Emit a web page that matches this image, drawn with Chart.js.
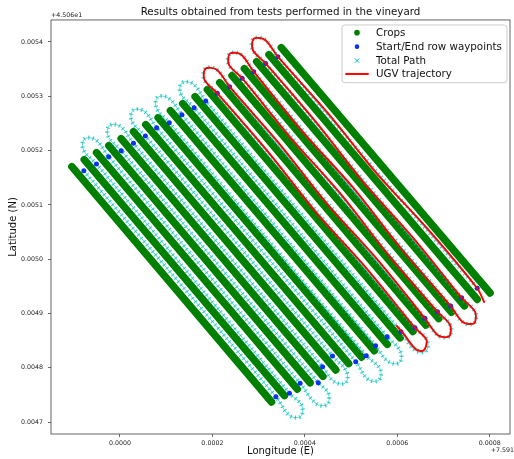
<!DOCTYPE html>
<html><head><meta charset="utf-8">
<script src="https://cdn.jsdelivr.net/npm/chart.js@4.4.1/dist/chart.umd.min.js"></script>
<style>html,body{margin:0;padding:0;background:#fff;}canvas{display:block;}</style>
</head><body>
<canvas id="c" width="514" height="459"></canvas>
<script>
// ---- texts ----
const chartTitle = 'Results obtained from tests performed in the vineyard';
const xLabel = 'Longitude (E)';
const yLabel = 'Latitude (N)';
const xOffsetText = '+7.591';
const yOffsetText = '+4.506e1';
const seriesNames = ['Crops', 'Start/End row waypoints', 'Total Path', 'UGV trajectory'];

// ---- axes (offsets from 7.591 E and 45.06 N) ----
const xTicks = [0.0000, 0.0002, 0.0004, 0.0006, 0.0008];
const yTicks = [0.0047, 0.0048, 0.0049, 0.0050, 0.0051, 0.0052, 0.0053, 0.0054];
const xMin = -0.000149, xMax = 0.0008436;
const yMin = 0.0046781, yMax = 0.0054405;

// ---- crop rows (upper-left start, lower-right end) ----
const cropStartLon = [-0.0001038, -0.0000771, -0.0000505, -0.0000239, 0.0000028, 0.0000294, 0.0000560, 0.0000827, 0.0001093, 0.0001360, 0.0001626, 0.0001892, 0.0002159, 0.0002425, 0.0002692, 0.0002958, 0.0003224, 0.0003491];
const cropStartLat = [0.0051704, 0.0051832, 0.0051961, 0.0052090, 0.0052219, 0.0052348, 0.0052477, 0.0052606, 0.0052735, 0.0052864, 0.0052993, 0.0053122, 0.0053250, 0.0053379, 0.0053508, 0.0053637, 0.0053766, 0.0053895];
const cropEndLon = [0.0003280, 0.0003558, 0.0003836, 0.0004114, 0.0004392, 0.0004670, 0.0004948, 0.0005226, 0.0005504, 0.0005782, 0.0006060, 0.0006338, 0.0006616, 0.0006894, 0.0007172, 0.0007450, 0.0007728, 0.0008006];
const cropEndLat = [0.0047370, 0.0047488, 0.0047606, 0.0047724, 0.0047842, 0.0047960, 0.0048078, 0.0048196, 0.0048314, 0.0048432, 0.0048551, 0.0048669, 0.0048787, 0.0048905, 0.0049023, 0.0049141, 0.0049259, 0.0049377];

// ---- start/end row waypoints (one per lane, top and bottom) ----
const wpTopLon = [-0.0000780, -0.0000507, -0.0000243, 0.0000030, 0.0000294, 0.0000552, 0.0000795, 0.0001068, 0.0001340, 0.0001605, 0.0001856, 0.0002105, 0.0002372, 0.0002642, 0.0002894, 0.0003151, 0.0003416];
const wpTopLat = [0.0051630, 0.0051753, 0.0051888, 0.0051998, 0.0052134, 0.0052269, 0.0052422, 0.0052514, 0.0052661, 0.0052790, 0.0052913, 0.0053055, 0.0053177, 0.0053332, 0.0053453, 0.0053604, 0.0053729];
const wpBotLon = [0.0003373, 0.0003667, 0.0003897, 0.0004290, 0.0004382, 0.0004597, 0.0005100, 0.0005328, 0.0005529, 0.0005779, 0.0006079, 0.0006380, 0.0006595, 0.0006868, 0.0007153, 0.0007390, 0.0007727];
const wpBotLat = [0.0047468, 0.0047530, 0.0047715, 0.0047726, 0.0048020, 0.0048217, 0.0048112, 0.0048223, 0.0048407, 0.0048573, 0.0048665, 0.0048739, 0.0048912, 0.0049033, 0.0049138, 0.0049291, 0.0049464];

// ---- headland turns of the planned path (entry shoulder, tip, exit shoulder) ----
const topTurnLon = [
  [-0.0000784, -0.0000765, -0.0000522], [-0.0000247, -0.0000227, 0.0000015],
  [0.0000264, 0.0000284, 0.0000526], [0.0000795, 0.0000814, 0.0001056],
  [0.0001321, 0.0001341, 0.0001583], [0.0001829, 0.0001849, 0.0002091],
  [0.0002359, 0.0002378, 0.0002620], [0.0002874, 0.0002894, 0.0003136]];
const topTurnLat = [
  [0.0052005, 0.0052213, 0.0052196], [0.0052251, 0.0052459, 0.0052442],
  [0.0052530, 0.0052738, 0.0052721], [0.0052772, 0.0052980, 0.0052963],
  [0.0053037, 0.0053244, 0.0053227], [0.0053301, 0.0053508, 0.0053492],
  [0.0053577, 0.0053785, 0.0053768], [0.0053852, 0.0054059, 0.0054042]];
const botTurnLon = [
  [0.0003667, 0.0003910, 0.0003929], [0.0004241, 0.0004483, 0.0004503],
  [0.0004637, 0.0004879, 0.0004899], [0.0005361, 0.0005603, 0.0005623],
  [0.0005802, 0.0006044, 0.0006063], [0.0006377, 0.0006619, 0.0006639],
  [0.0006879, 0.0007121, 0.0007141], [0.0007419, 0.0007661, 0.0007681]];
const botTurnLat = [
  [0.0047123, 0.0047107, 0.0047314], [0.0047344, 0.0047328, 0.0047535],
  [0.0047743, 0.0047726, 0.0047934], [0.0047792, 0.0047775, 0.0047983],
  [0.0048114, 0.0048097, 0.0048305], [0.0048326, 0.0048309, 0.0048517],
  [0.0048597, 0.0048580, 0.0048788], [0.0048839, 0.0048822, 0.0049030]];

// ---- recorded UGV trajectory ----
const ugvLon = [0.0005987, 0.0006137, 0.0006395, 0.0006567, 0.0006631, 0.0006380, 0.0005332, 0.0004223, 0.0003192, 0.0002105,
  0.0001829, 0.0001849, 0.0002091, 0.0002372, 0.0003450, 0.0004466, 0.0005564, 0.0006595, 0.0006879, 0.0007121,
  0.0007141, 0.0006868, 0.0005792, 0.0004778, 0.0003682, 0.0002642, 0.0002359, 0.0002378, 0.0002620, 0.0002894,
  0.0003940, 0.0005048, 0.0006071, 0.0007153, 0.0007419, 0.0007661, 0.0007681, 0.0007390, 0.0006350, 0.0005252,
  0.0004228, 0.0003151, 0.0002874, 0.0002894, 0.0003136, 0.0003416, 0.0004511, 0.0005551, 0.0006668, 0.0007727, 0.0007877];
const ugvLat = [0.0048770, 0.0048623, 0.0048346, 0.0048319, 0.0048512, 0.0048739, 0.0049832, 0.0050882, 0.0051989, 0.0053055,
  0.0053301, 0.0053508, 0.0053492, 0.0053177, 0.0052125, 0.0051033, 0.0049996, 0.0048912, 0.0048597, 0.0048580,
  0.0048788, 0.0049033, 0.0050092, 0.0051197, 0.0052245, 0.0053332, 0.0053577, 0.0053785, 0.0053768, 0.0053453,
  0.0052359, 0.0051313, 0.0050206, 0.0049138, 0.0048839, 0.0048822, 0.0049030, 0.0049291, 0.0050383, 0.0051433,
  0.0052536, 0.0053604, 0.0053852, 0.0054059, 0.0054042, 0.0053729, 0.0052676, 0.0051582, 0.0050545, 0.0049464, 0.0049212];

// ---- build library data ----
const FONT = '"DejaVu Sans", sans-serif';
const pt = (x, y) => ({x, y});

const pathData = [];
for (let j = 0; j < wpTopLon.length; j++) {
  const top = pt(wpTopLon[j], wpTopLat[j]);
  const bot = pt(wpBotLon[j], wpBotLat[j]);
  if (j % 2 === 0) {
    pathData.push(top, bot);
    const k = j / 2;
    if (k < botTurnLon.length) for (let m = 0; m < 3; m++) pathData.push(pt(botTurnLon[k][m], botTurnLat[k][m]));
  } else {
    pathData.push(bot, top);
    const k = (j - 1) / 2;
    if (k < topTurnLon.length) for (let m = 0; m < 3; m++) pathData.push(pt(topTurnLon[k][m], topTurnLat[k][m]));
  }
}
const wpData = [];
for (let j = 0; j < wpTopLon.length; j++) { wpData.push(pt(wpTopLon[j], wpTopLat[j]), pt(wpBotLon[j], wpBotLat[j])); }
const ugvData = ugvLon.map((x, i) => pt(x, ugvLat[i]));

const GREEN = '#008000', BLUE = '#0a32f5', CYAN = '#00bfbf', RED = '#ff0000';

const datasets = [];
cropStartLon.forEach((_, i) => datasets.push({
  label: i === 0 ? seriesNames[0] : '',
  data: [pt(cropStartLon[i], cropStartLat[i]), pt(cropEndLon[i], cropEndLat[i])],
  showLine: true, borderColor: GREEN, backgroundColor: GREEN, borderWidth: 7.5,
  borderCapStyle: 'round', pointRadius: 0, tension: 0, order: 6
}));
datasets.push({
  label: seriesNames[2], data: pathData, showLine: true,
  borderColor: 'rgba(0,191,191,0.75)', borderWidth: 4.2, borderDash: [1.2, 3.2], borderCapStyle: 'butt',
  tension: 0.4, pointRadius: 0, order: 4
});
datasets.push({
  label: '', data: pathData, showLine: true,
  borderColor: 'rgba(0,191,191,0.7)', borderWidth: 0.9, borderJoinStyle: 'round',
  tension: 0.4, pointRadius: 0, order: 4
});
datasets.push({
  label: seriesNames[1], data: wpData, showLine: false,
  pointRadius: 2.5, pointBackgroundColor: BLUE, pointBorderWidth: 0, order: 2
});
datasets.push({
  label: seriesNames[3], data: ugvData, showLine: true,
  borderColor: RED, borderWidth: 1.9, borderJoinStyle: 'round', borderCapStyle: 'round',
  tension: 0.3, pointRadius: 0, order: 0
});

const mplPlugin = {
  id: 'mplExtras',
  afterDraw(chart) {
    const {ctx, chartArea: a} = chart;
    ctx.save();
    // axes frame
    ctx.strokeStyle = '#555'; ctx.lineWidth = 0.9;
    ctx.strokeRect(a.left, a.top, a.right - a.left, a.bottom - a.top);
    // offset texts
    ctx.fillStyle = '#222'; ctx.font = '6.3px ' + FONT; ctx.textBaseline = 'middle';
    ctx.textAlign = 'left'; ctx.fillText(yOffsetText, a.left, a.top - 5);
    ctx.textAlign = 'right'; ctx.fillText(xOffsetText, chart.width, a.bottom + 16);
    // legend
    const w = 165, h = 57.7, x0 = a.right - 3 - w, y0 = a.top + 5, r = 3;
    ctx.beginPath();
    ctx.moveTo(x0 + r, y0); ctx.lineTo(x0 + w - r, y0); ctx.arcTo(x0 + w, y0, x0 + w, y0 + r, r);
    ctx.lineTo(x0 + w, y0 + h - r); ctx.arcTo(x0 + w, y0 + h, x0 + w - r, y0 + h, r);
    ctx.lineTo(x0 + r, y0 + h); ctx.arcTo(x0, y0 + h, x0, y0 + h - r, r);
    ctx.lineTo(x0, y0 + r); ctx.arcTo(x0, y0, x0 + r, y0, r); ctx.closePath();
    ctx.fillStyle = 'rgba(255,255,255,0.8)'; ctx.fill();
    ctx.strokeStyle = '#cccccc'; ctx.lineWidth = 1; ctx.stroke();
    const rows = [y0 + 7.7, y0 + 21.7, y0 + 35.7, y0 + 49];
    const mx = x0 + 15;
    ctx.fillStyle = GREEN; ctx.beginPath(); ctx.arc(mx, rows[0], 2.8, 0, Math.PI * 2); ctx.fill();
    ctx.fillStyle = BLUE; ctx.beginPath(); ctx.arc(mx, rows[1], 2.3, 0, Math.PI * 2); ctx.fill();
    ctx.strokeStyle = CYAN; ctx.lineWidth = 1; ctx.beginPath();
    ctx.moveTo(mx - 2.2, rows[2] - 2.2); ctx.lineTo(mx + 2.2, rows[2] + 2.2);
    ctx.moveTo(mx + 2.2, rows[2] - 2.2); ctx.lineTo(mx - 2.2, rows[2] + 2.2); ctx.stroke();
    ctx.strokeStyle = RED; ctx.lineWidth = 2; ctx.beginPath();
    ctx.moveTo(x0 + 3.3, rows[3]); ctx.lineTo(x0 + 26.7, rows[3]); ctx.stroke();
    ctx.fillStyle = '#111'; ctx.font = '10.3px ' + FONT; ctx.textAlign = 'left'; ctx.textBaseline = 'middle';
    seriesNames.forEach((s, i) => ctx.fillText(s, x0 + 34, rows[i] + 0.5));
    ctx.restore();
  }
};

const tickFont = {family: FONT, size: 6.3};
new Chart(document.getElementById('c'), {
  type: 'scatter',
  data: {datasets},
  options: {
    responsive: false, animation: false, devicePixelRatio: 1, events: [],
    layout: {padding: {left: 0, right: 1, top: 0, bottom: 0}},
    plugins: {
      legend: {display: false}, tooltip: {enabled: false},
      title: {display: true, text: chartTitle, fullSize: false, color: '#111',
        font: {family: FONT, size: 10.3, weight: 'normal'}, padding: {top: 6.5, bottom: 1.1}}
    },
    scales: {
      x: {
        type: 'linear', min: xMin, max: xMax,
        afterFit: s => { s.height = 25; },
        afterBuildTicks: s => { s.ticks = xTicks.map(v => ({value: v})); },
        ticks: {callback: v => Number(v).toFixed(4), font: tickFont, color: '#222', padding: 3, maxRotation: 0, autoSkip: false},
        grid: {drawOnChartArea: false, drawTicks: true, tickLength: 3, color: '#444', lineWidth: 0.8},
        border: {display: false},
        title: {display: true, text: xLabel, color: '#111', font: {family: FONT, size: 10}, padding: {top: 0, bottom: 1.8}}
      },
      y: {
        type: 'linear', min: yMin, max: yMax,
        afterFit: s => { s.width = 51; },
        afterBuildTicks: s => { s.ticks = yTicks.map(v => ({value: v})); },
        ticks: {callback: v => Number(v).toFixed(4), font: tickFont, color: '#222', padding: 5, autoSkip: false},
        grid: {drawOnChartArea: false, drawTicks: true, tickLength: 3, color: '#444', lineWidth: 0.8},
        border: {display: false},
        title: {display: true, text: yLabel, color: '#111', font: {family: FONT, size: 10}, padding: {top: 7.7, bottom: 0}}
      }
    }
  },
  plugins: [mplPlugin]
});
</script>
</body></html>
